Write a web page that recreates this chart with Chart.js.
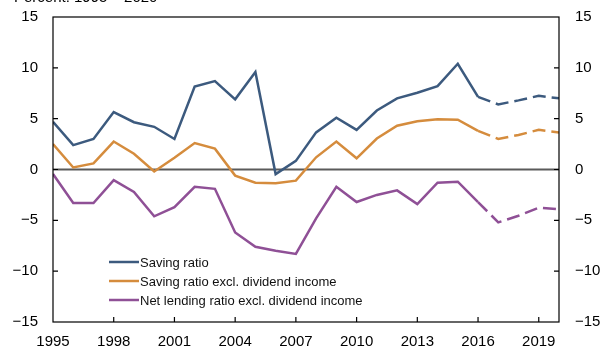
<!DOCTYPE html>
<html>
<head>
<meta charset="utf-8">
<script src="https://cdn.jsdelivr.net/npm/chart.js@4/dist/chart.umd.min.js"></script>
<style>
  html, body { margin: 0; padding: 0; background: #fff; }
  #wrap { width: 608px; height: 347px; position: relative; }
</style>
</head>
<body>
<div id="wrap"><canvas id="chart"></canvas></div>
<script>
// Data (percent)
const years = [1995, 1996, 1997, 1998, 1999, 2000, 2001, 2002, 2003, 2004, 2005, 2006, 2007,
  2008, 2009, 2010, 2011, 2012, 2013, 2014, 2015, 2016, 2017, 2018, 2019, 2020];
const savingRatio = [4.7, 2.4, 3.0, 5.65, 4.65, 4.2, 3.0, 8.15, 8.7, 6.9, 9.6, -0.45, 0.85,
  3.65, 5.1, 3.9, 5.8, 7.0, 7.55, 8.2, 10.4, 7.15, 6.4, 6.8, 7.25, 7.0];
const savingExclDividend = [2.5, 0.2, 0.6, 2.75, 1.55, -0.2, 1.15, 2.6, 2.05, -0.6, -1.3, -1.35, -1.1,
  1.2, 2.75, 1.1, 3.05, 4.3, 4.75, 4.95, 4.9, 3.8, 3.0, 3.4, 3.9, 3.65];
const netLendingExclDividend = [-0.45, -3.3, -3.3, -1.05, -2.2, -4.6, -3.7, -1.7, -1.9, -6.2, -7.6, -8.0, -8.3,
  -4.8, -1.7, -3.2, -2.5, -2.05, -3.4, -1.3, -1.2, -3.2, -5.2, -4.55, -3.75, -3.9];
const seriesLabels = ['Saving ratio', 'Saving ratio excl. dividend income', 'Net lending ratio excl. dividend income'];
const xTicks = [1995, 1998, 2001, 2004, 2007, 2010, 2013, 2016, 2019];
const yTicks = [-15, -10, -5, 0, 5, 10, 15];
const projectionFrom = 2016; // dashed after this year
const titleText = 'Percent. 1995 \u2013 2020';

const colors = ['#3c5a7e', '#d58c3d', '#8f5096'];
const FONT = '"Liberation Sans", Arial, Helvetica, sans-serif';

const dashIndex = years.indexOf(projectionFrom);

function makeDataset(label, values, color) {
  return {
    label: label,
    data: years.map((yr, i) => ({ x: yr, y: values[i] })),
    borderColor: color,
    backgroundColor: color,
    borderWidth: 2.5,
    pointRadius: 0,
    tension: 0,
    fill: false,
    segment: {
      borderDash: ctx => ctx.p0DataIndex >= dashIndex ? [13, 6] : undefined
    }
  };
}

const minus = v => String(v).replace('-', '\u2212');

// Frame, zero line, inner ticks, cut-off title and legend inside the plot
const decorations = {
  id: 'decorations',
  beforeDatasetsDraw(chart) {
    const { ctx, chartArea: a, scales } = chart;
    const y0 = scales.y.getPixelForValue(0);
    ctx.save();
    ctx.strokeStyle = '#5a5a5a';
    ctx.lineWidth = 2;
    ctx.beginPath();
    ctx.moveTo(a.left, y0);
    ctx.lineTo(a.right, y0);
    ctx.stroke();
    ctx.restore();
  },
  afterDraw(chart) {
    const { ctx, chartArea: a, scales } = chart;
    ctx.save();
    ctx.strokeStyle = '#000';
    ctx.lineWidth = 1.2;
    ctx.strokeRect(a.left, a.top, a.right - a.left, a.bottom - a.top);

    // tick marks pointing into the plot
    const tl = 5;
    ctx.beginPath();
    yTicks.forEach(v => {
      if (v === yTicks[0] || v === yTicks[yTicks.length - 1]) return;
      const py = scales.y.getPixelForValue(v);
      ctx.moveTo(a.left, py); ctx.lineTo(a.left + tl, py);
      ctx.moveTo(a.right, py); ctx.lineTo(a.right - tl, py);
    });
    xTicks.forEach(v => {
      if (v === scales.x.min) return;
      const px = scales.x.getPixelForValue(v);
      ctx.moveTo(px, a.bottom); ctx.lineTo(px, a.bottom - tl);
    });
    ctx.stroke();

    // title, mostly cut off by the top edge as in the reference
    ctx.fillStyle = '#000';
    ctx.font = '15px ' + FONT;
    ctx.textBaseline = 'alphabetic';
    ctx.textAlign = 'left';
    ctx.fillText(titleText, 14, 2);

    // legend
    ctx.font = '13px ' + FONT;
    ctx.textBaseline = 'middle';
    chart.data.datasets.forEach((ds, i) => {
      const ly = 262 + i * 19;
      ctx.strokeStyle = ds.borderColor;
      ctx.lineWidth = 2.5;
      ctx.beginPath();
      ctx.moveTo(109, ly);
      ctx.lineTo(139, ly);
      ctx.stroke();
      ctx.fillStyle = '#111';
      ctx.fillText(ds.label, 140, ly + 1);
    });
    ctx.restore();
  }
};

const yAxis = (position, width, padding) => ({
  type: 'linear',
  position: position,
  min: -15,
  max: 15,
  grid: { display: false, drawTicks: false },
  border: { display: false },
  afterBuildTicks: scale => { scale.ticks = yTicks.map(v => ({ value: v })); },
  afterFit: scale => {
    scale.width = width;
    scale.paddingTop = 0;
    scale.paddingBottom = 0;
  },
  ticks: {
    padding: padding,
    color: '#000',
    font: { family: FONT, size: 15 },
    callback: v => minus(v)
  }
});

new Chart(document.getElementById('chart'), {
  type: 'line',
  data: {
    datasets: [
      makeDataset(seriesLabels[0], savingRatio, colors[0]),
      makeDataset(seriesLabels[1], savingExclDividend, colors[1]),
      makeDataset(seriesLabels[2], netLendingExclDividend, colors[2])
    ]
  },
  options: {
    responsive: true,
    maintainAspectRatio: false,
    animation: false,
    layout: { padding: { top: 17, left: 0, right: 0, bottom: 0 } },
    plugins: {
      legend: { display: false },
      tooltip: { enabled: false }
    },
    scales: {
      x: {
        type: 'linear',
        position: 'bottom',
        min: years[0],
        max: years[years.length - 1],
        grid: { display: false, drawTicks: false },
        border: { display: false },
        afterBuildTicks: scale => { scale.ticks = xTicks.map(v => ({ value: v })); },
        afterFit: scale => {
          scale.height = 25;
          scale.paddingLeft = 0;
          scale.paddingRight = 0;
        },
        ticks: {
          padding: 11,
          autoSkip: false,
          maxRotation: 0,
          color: '#000',
          font: { family: FONT, size: 15 },
          callback: v => String(v)
        }
      },
      y: yAxis('left', 53, 15),
      y2: yAxis('right', 49, 16)
    }
  },
  plugins: [decorations]
});
</script>
</body>
</html>
